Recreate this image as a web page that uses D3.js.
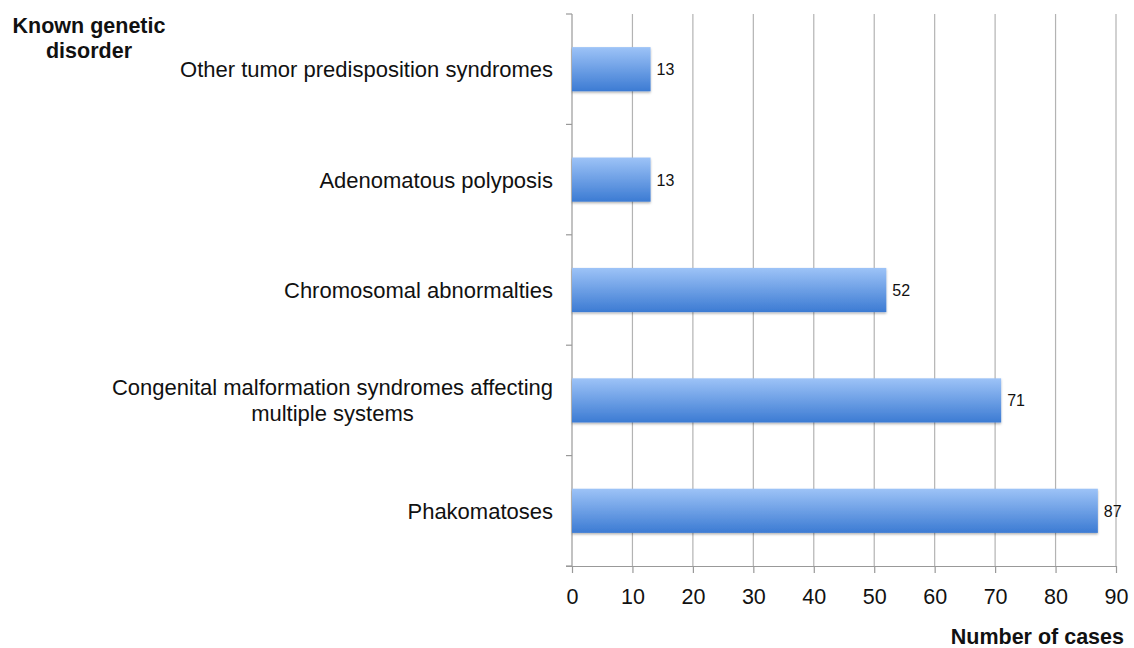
<!DOCTYPE html>
<html><head><meta charset="utf-8">
<script src="https://cdn.jsdelivr.net/npm/d3@7"></script>
<style>body{margin:0;background:#fff}svg{font-family:"Liberation Sans",Arial,Helvetica,sans-serif}</style>
</head><body><svg id="c" width="1134" height="648"></svg>
<script>
const categories = [
  ["Other tumor predisposition syndromes"],
  ["Adenomatous polyposis"],
  ["Chromosomal abnormalties"],
  ["Congenital malformation syndromes affecting", "multiple systems"],
  ["Phakomatoses"]
];
const values = [13, 13, 52, 71, 87];
const xTicks = [0, 10, 20, 30, 40, 50, 60, 70, 80, 90];
const yTitle = ["Known genetic", "disorder"];
const xTitle = "Number of cases";

const svg = d3.select("#c");
const L = 572, R = 1116, T = 14, B = 566;
const x = d3.scaleLinear().domain([0, 90]).range([L, R]);
const y = d3.scaleBand().domain(d3.range(categories.length)).range([T, B]).paddingInner(0.6).paddingOuter(0.3);

const defs = svg.append("defs");
const g = defs.append("linearGradient").attr("id", "bg").attr("x1", 0).attr("y1", 0).attr("x2", 0).attr("y2", 1);
g.append("stop").attr("offset", "0%").attr("stop-color", "#9dc3f7");
g.append("stop").attr("offset", "100%").attr("stop-color", "#3c7bd3");
const f = defs.append("filter").attr("id", "sh").attr("x", "-5%").attr("y", "-10%").attr("width", "110%").attr("height", "130%");
f.append("feDropShadow").attr("dx", 0).attr("dy", 1.5).attr("stdDeviation", 1.2).attr("flood-color", "#000").attr("flood-opacity", 0.3);

// gridlines
svg.append("g").selectAll("line").data(xTicks.slice(1)).join("line")
  .attr("x1", d => x(d)).attr("x2", d => x(d)).attr("y1", T).attr("y2", B)
  .attr("stroke", "#b3b3b3").attr("stroke-width", 1.2);

// x axis
const xa = svg.append("g").attr("transform", `translate(0,${B})`)
  .call(d3.axisBottom(x).tickValues(xTicks).tickSize(7).tickSizeOuter(0).tickPadding(16));
xa.select(".domain").attr("stroke", "#999").attr("stroke-width", 1.2).attr("d", `M${L-6},0.5H${R}`);
xa.selectAll(".tick line").attr("stroke", "#999").attr("stroke-width", 1.2);
xa.selectAll(".tick text").attr("font-size", 21.5).attr("fill", "#111").attr("font-family", "Liberation Sans, Arial, sans-serif");

// y axis line with ticks at band boundaries
const bounds = d3.range(categories.length + 1).map(i => T + i * (B - T) / categories.length);
svg.append("line").attr("x1", L).attr("x2", L).attr("y1", T).attr("y2", B).attr("stroke", "#999").attr("stroke-width", 1.2);
svg.append("g").selectAll("line").data(bounds).join("line")
  .attr("x1", L - 6).attr("x2", L).attr("y1", d => d).attr("y2", d => d)
  .attr("stroke", "#999").attr("stroke-width", 1.2);

// bars
svg.append("g").selectAll("rect").data(values).join("rect")
  .attr("x", x(0)).attr("y", (d, i) => y(i)).attr("width", d => x(d) - x(0)).attr("height", y.bandwidth())
  .attr("fill", "url(#bg)").attr("filter", "url(#sh)");

// value labels
svg.append("g").selectAll("text").data(values).join("text")
  .attr("x", d => x(d) + 6).attr("y", (d, i) => y(i) + y.bandwidth() / 2 + 6)
  .attr("font-size", 16).attr("fill", "#111").text(d => d);

// category labels
const labG = svg.append("g");
categories.forEach((lines, i) => {
  const cy = y(i) + y.bandwidth() / 2;
  const t = labG.append("text").attr("font-size", 22).attr("fill", "#111");
  const lh = 26;
  const spans = lines.map((s, j) => t.append("tspan").attr("y", cy + 8 + (j - (lines.length - 1) / 2) * lh).text(s));
  if (lines.length === 1) {
    t.attr("text-anchor", "end"); spans[0].attr("x", 553);
  } else {
    const w = Math.max(...spans.map(s => s.node().getComputedTextLength()));
    t.attr("text-anchor", "middle"); spans.forEach(s => s.attr("x", 553 - w / 2));
  }
});

// titles
const yt = svg.append("text").attr("font-size", 21.5).attr("font-weight", "bold").attr("text-anchor", "middle").attr("fill", "#111");
yTitle.forEach((s, j) => yt.append("tspan").attr("x", 89).attr("y", 33 + j * 25).text(s));
svg.append("text").attr("x", 1124).attr("y", 644).attr("font-size", 21.5).attr("font-weight", "bold")
  .attr("text-anchor", "end").attr("fill", "#111").text(xTitle);
</script></body></html>
